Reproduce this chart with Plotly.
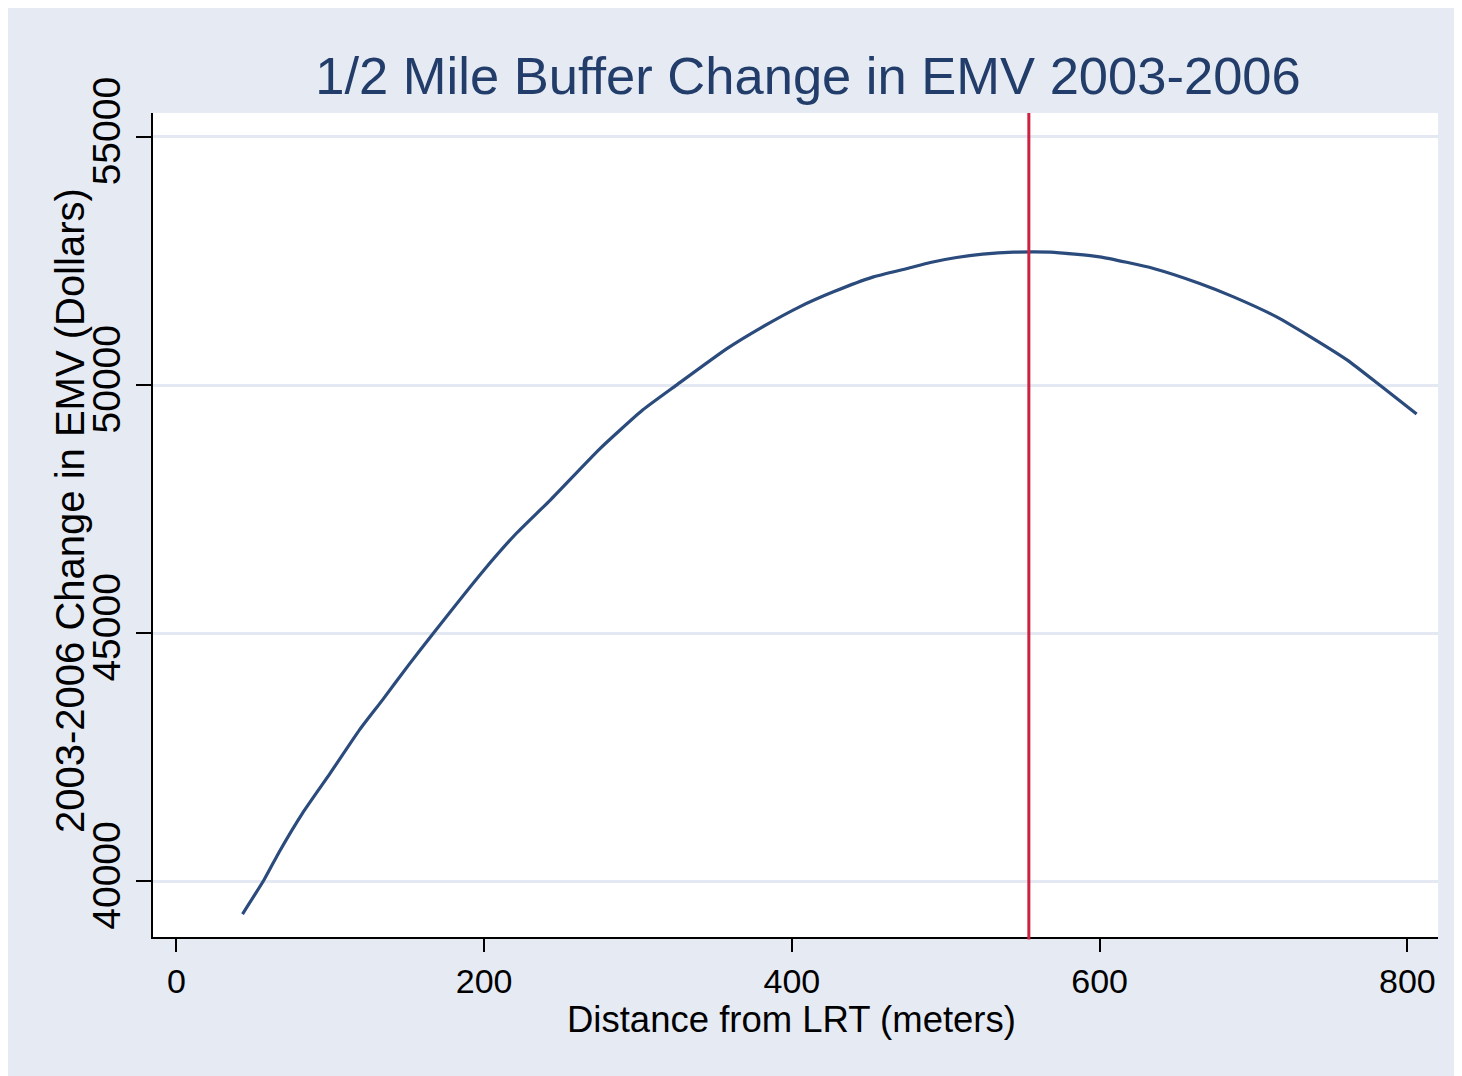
import plotly.graph_objects as go

# Data
distance = [43, 57, 67, 82, 100, 119, 134, 151, 167, 199, 221, 243, 275, 303, 325,
            358, 381, 405, 427, 453, 475, 490, 507, 524, 544, 568, 600, 635, 665,
            687, 715, 737, 761, 782, 806]
change_emv = [39341, 40032, 40602, 41375, 42181, 43053, 43657, 44362, 45000, 46240,
              47014, 47684, 48711, 49497, 50000, 50739, 51174, 51577, 51879, 52181,
              52350, 52471, 52571, 52638, 52678, 52678, 52584, 52350, 52048, 51778,
              51375, 50973, 50503, 50000, 49416]
vline_x = 554

x_ticks = [0, 200, 400, 600, 800]
y_ticks = [40000, 45000, 50000, 55000]

BG = "#E5EAF3"
NAVY = "#2A4B7C"
RED = "#CC2141"
FONT = "Liberation Sans, Arial, Helvetica, sans-serif"

W, H = 1462, 1076
ml, mr, mt, mb = 145, 32, 105, 147
pw, ph = W - ml - mr, H - mt - mb
plot_bottom = H - mb

fig = go.Figure()
fig.add_trace(go.Scatter(
    x=distance, y=change_emv, mode="lines",
    line=dict(color=NAVY, width=3.2, shape="spline", smoothing=0.5),
    showlegend=False, hoverinfo="x+y"))

fig.add_shape(type="line", xref="x", yref="paper", x0=vline_x, x1=vline_x,
              y0=-0.003, y1=1, line=dict(color=RED, width=3), layer="above")

fig.add_annotation(text="Distance from LRT (meters)", xref="paper", yref="paper",
                   x=(783 - ml) / pw, y=-(1011 - plot_bottom) / ph,
                   xanchor="center", yanchor="middle", showarrow=False,
                   font=dict(size=36.5, family=FONT, color="black"))
fig.add_annotation(text="2003-2006 Change in EMV (Dollars)", xref="paper", yref="paper",
                   x=(62 - ml) / pw, y=(plot_bottom - 503) / ph, textangle=-90,
                   xanchor="center", yanchor="middle", showarrow=False,
                   font=dict(size=40, family=FONT, color="black"))

fig.update_layout(
    width=W, height=H,
    margin=dict(l=ml, r=mr, t=mt, b=mb),
    paper_bgcolor=BG, plot_bgcolor="white",
    font=dict(family=FONT, color="black"),
    title=dict(text="1/2 Mile Buffer Change in EMV 2003-2006",
               font=dict(size=52.5, color="#233D6A", family=FONT),
               x=800 / W, xref="container", xanchor="center",
               y=1 - 68 / H, yref="container", yanchor="middle"),
    xaxis=dict(range=[-15.2, 819.9], tickvals=x_ticks,
               ticktext=[str(v) for v in x_ticks],
               showgrid=False, zeroline=False,
               showline=True, linecolor="black", linewidth=2,
               ticks="outside", ticklen=13, tickwidth=2, tickcolor="black",
               tickfont=dict(size=34, family=FONT, color="black")),
    yaxis=dict(range=[38878, 55483], tickvals=y_ticks,
               ticktext=[str(v) for v in y_ticks],
               showgrid=True, gridcolor="#E3E8F2", gridwidth=3,
               zeroline=False,
               showline=True, linecolor="black", linewidth=2,
               ticks="outside", ticklen=15, tickwidth=2, tickcolor="black",
               tickangle=-90,
               tickfont=dict(size=39, family=FONT, color="black")),
)

fig.write_html(
    "out.html",
    post_script="document.documentElement.style.overflow='hidden';"
                "document.body.style.overflow='hidden';",
)
